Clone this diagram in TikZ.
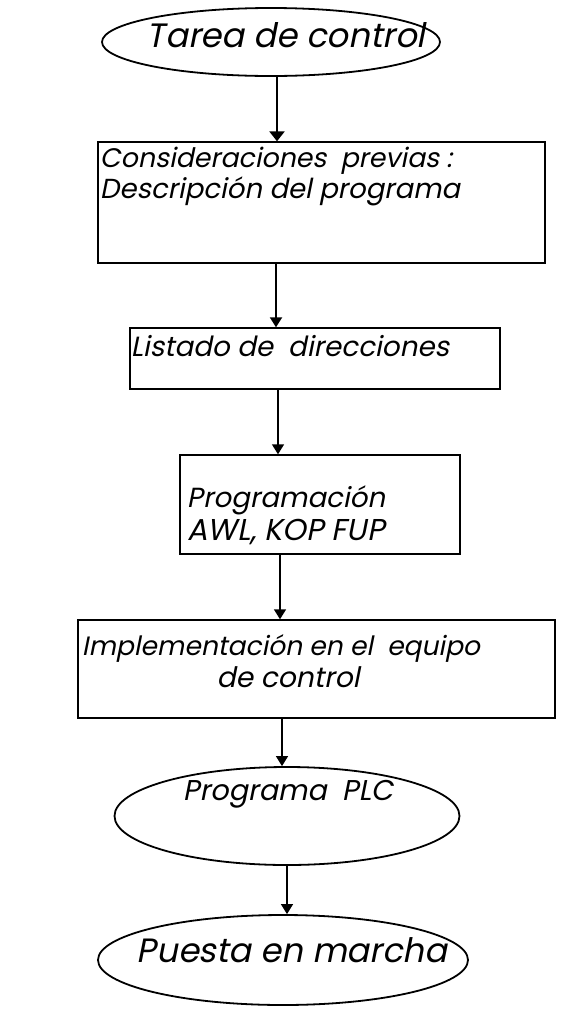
\documentclass[tikz,border=0pt]{standalone}
\usepackage{fontspec}
\setmainfont{Poppins}[FakeSlant=0.2]
\usetikzlibrary{shapes.geometric,arrows.meta}
\newcommand\fitw[2]{\resizebox{#1pt}{!}{#2}}
\begin{document}
\begin{tikzpicture}[x=1pt,y=-1pt,
  frame/.style={draw, line width=1.4pt, inner sep=0pt},
  ell/.style={frame, ellipse, line width=1.8pt},
  boxr/.style={frame, rectangle},
  txt/.style={inner sep=0pt, anchor=base, font=\fontsize{24}{28}\selectfont},
  arr/.style={line width=1.4pt, -{Triangle[length=10pt,width=12pt]}}]
\useasboundingbox (0,0) rectangle (560,1010);
% shapes
\node[ell, minimum width=338pt, minimum height=68pt] (e1) at (271,42) {};
\node[boxr, minimum width=447pt, minimum height=121pt] (b2) at (321.5,202.5) {};
\node[boxr, minimum width=370pt, minimum height=61pt] (b3) at (315,358.5) {};
\node[boxr, minimum width=280pt, minimum height=99pt] (b4) at (320,504.5) {};
\node[boxr, minimum width=477pt, minimum height=98pt] (b5) at (316.5,669) {};
\node[ell, minimum width=345pt, minimum height=98pt] (e3) at (287,816) {};
\node[ell, minimum width=370pt, minimum height=90pt] (e4) at (283,960) {};
% texts
\node[txt] (t1) at (286,47) {\fitw{278}{Tarea de control}};
\node[txt] (t2a) at (276,167) {\fitw{352}{Consideraciones\ \ previas :}};
\node[txt] (t2b) at (280,198) {\fitw{360}{Descripción del programa}};
\node[txt] (t3) at (290,356) {\fitw{318}{Listado de\ \ direcciones}};
\node[txt] (t4a) at (286,507) {\fitw{198}{Programación}};
\node[txt] (t4b) at (286,540) {\fitw{197}{AWL, KOP FUP}};
\node[txt] (t5a) at (281,655) {\fitw{398}{Implementación en el\ \ equipo}};
\node[txt] (t5b) at (288,687) {\fitw{143}{de control}};
\node[txt] (t6) at (288,800) {\fitw{210}{Programa\ \ PLC}};
\node[txt] (t7) at (292,962) {\fitw{310}{Puesta en marcha}};
% connector x positions
\coordinate (x1) at (277,0);
\coordinate (x2) at (276,0);
\coordinate (x3) at (278,0);
\coordinate (x4) at (280,0);
\coordinate (x5) at (282,0);
\coordinate (x6) at (287,0);
\draw[arr, line width=2.8pt, -{Triangle[length=10pt,width=15pt]}] (e1.south -| x1) -- (b2.north -| x1);
\draw[arr, line width=2pt] (b2.south -| x2) -- (b3.north -| x2);
\draw[arr] (b3.south -| x3) -- (b4.north -| x3);
\draw[arr] (b4.south -| x4) -- (b5.north -| x4);
\draw[arr] (b5.south -| x5) -- (e3.north -| x5);
\draw[arr] (e3.south -| x6) -- (e4.north -| x6);
\end{tikzpicture}
\end{document}
